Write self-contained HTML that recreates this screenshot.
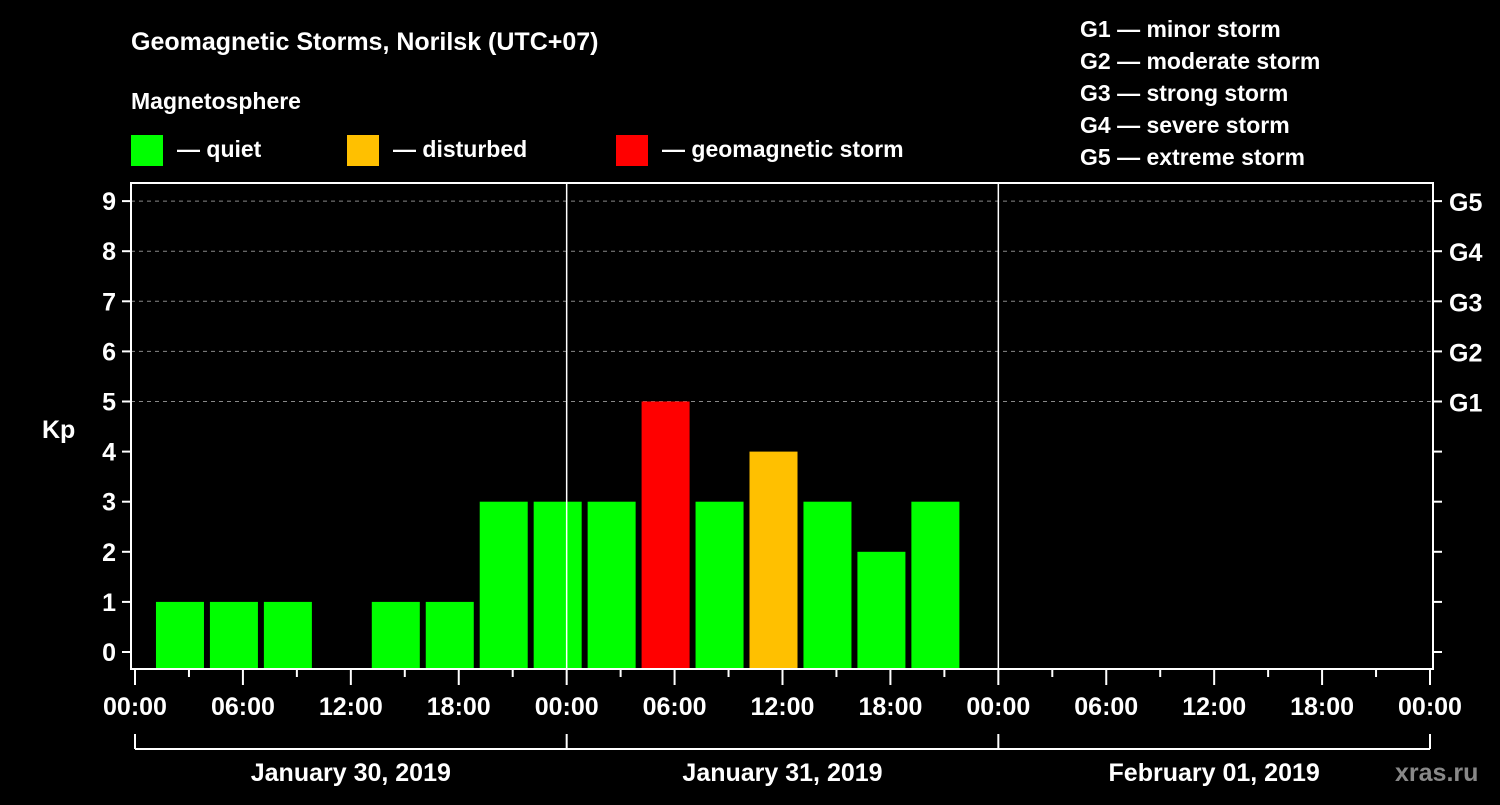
<!DOCTYPE html>
<html><head><meta charset="utf-8"><style>
body{margin:0;background:#000;}
svg text{font-family:"Liberation Sans",Arial,sans-serif;font-weight:bold;fill:#fff;}
</style></head><body>
<svg id="chart" width="1500" height="800" xmlns="http://www.w3.org/2000/svg">
<rect width="1500" height="800" fill="#000"/>
<text x="131" y="50" font-size="25">Geomagnetic Storms, Norilsk (UTC+07)</text>
<text x="131" y="109" font-size="23">Magnetosphere</text>
<g><rect x="131" y="135" width="32" height="31" fill="#00ff00"/><text x="177" y="157" font-size="23">— quiet</text></g>
<g><rect x="347" y="135" width="32" height="31" fill="#ffc000"/><text x="393" y="157" font-size="23">— disturbed</text></g>
<g><rect x="616" y="135" width="32" height="31" fill="#ff0000"/><text x="662" y="157" font-size="23">— geomagnetic storm</text></g>
<g font-size="23">
<text x="1080" y="37">G1 — minor storm</text>
<text x="1080" y="69">G2 — moderate storm</text>
<text x="1080" y="101">G3 — strong storm</text>
<text x="1080" y="133">G4 — severe storm</text>
<text x="1080" y="165">G5 — extreme storm</text>
</g>
<text x="42" y="438" font-size="25">Kp</text>
<text x="1395" y="781" font-size="25" fill="#888" style="fill:#888">xras.ru</text>
<g id="grid"></g><g id="bars"></g><g id="axes"></g>
</svg>
<script>
const kpValues=[1,1,1,null,1,1,3,3,3,5,3,4,3,2,3];
const yTicks=[0,1,2,3,4,5,6,7,8,9];
const gLabels=["G1","G2","G3","G4","G5"];
const timeLabels=["00:00","06:00","12:00","18:00","00:00","06:00","12:00","18:00","00:00","06:00","12:00","18:00","00:00"];
const dayLabels=["January 30, 2019","January 31, 2019","February 01, 2019"];
const NS="http://www.w3.org/2000/svg";
const X0=135,X1=1430,HOURS=72;
const xs=h=>X0+(X1-X0)*h/HOURS;
const ys=v=>652-v*50.1;
const BOTTOM=669;
function mk(tag,attrs,parent){const e=document.createElementNS(NS,tag);for(const k in attrs)e.setAttribute(k,attrs[k]);parent.appendChild(e);return e;}
const grid=document.getElementById('grid'),bars=document.getElementById('bars'),axes=document.getElementById('axes');
// gridlines for G levels
gLabels.forEach((g,i)=>{const y=ys(5+i);
 const l=mk('line',{x1:131,x2:1433,y1:y,y2:y,stroke:'#888','stroke-dasharray':'4,4','stroke-width':1},grid);
 
 
 const t=mk('text',{x:1449,y:y+10,'font-size':25},axes);t.textContent=g;
 
 
});
// bars
kpValues.forEach((v,i)=>{ if(v===null)return;
 const cx=xs(3*i+2.5);
 const col=v>=5?'#ff0000':(v>=4?'#ffc000':'#00ff00');
 const r=mk('rect',{x:cx-24,y:ys(v),width:48,height:BOTTOM-ys(v),fill:col},bars);
 
 
});
// frame
const f=mk('rect',{x:131,y:183,width:1302,height:486,fill:'none',stroke:'#fff','stroke-width':2},axes);


// day separators
[24,48].forEach(h=>{const l=mk('line',{x1:xs(h),x2:xs(h),y1:183,y2:669,stroke:'#fff','stroke-width':1.5},axes);
 
 });
// y ticks
yTicks.forEach(v=>{const y=ys(v);
 mk('line',{x1:122,x2:131,y1:y,y2:y,stroke:'#fff','stroke-width':2},axes);
 mk('line',{x1:1433,x2:1442,y1:y,y2:y,stroke:'#fff','stroke-width':2},axes);
 const t=mk('text',{x:116,y:y+9,'font-size':25,'text-anchor':'end'},axes);t.textContent=v;
 
 
});
// x ticks
for(let h=0;h<=HOURS;h+=3){const x=xs(h);const long=h%6===0;
 mk('line',{x1:x,x2:x,y1:669,y2:long?685:677,stroke:'#fff','stroke-width':2},axes);}
timeLabels.forEach((s,i)=>{const t=mk('text',{x:xs(i*6),y:715,'font-size':25,'text-anchor':'middle'},axes);t.textContent=s;
 
 });
// day bracket
mk('line',{x1:xs(0),x2:xs(72),y1:749,y2:749,stroke:'#fff','stroke-width':2},axes);
[0,24,48,72].forEach(h=>mk('line',{x1:xs(h),x2:xs(h),y1:734,y2:749,stroke:'#fff','stroke-width':2},axes));
dayLabels.forEach((s,i)=>{const t=mk('text',{x:xs(24*i+12),y:781,'font-size':25,'text-anchor':'middle'},axes);t.textContent=s;
 
 });
</script>
</body></html>
